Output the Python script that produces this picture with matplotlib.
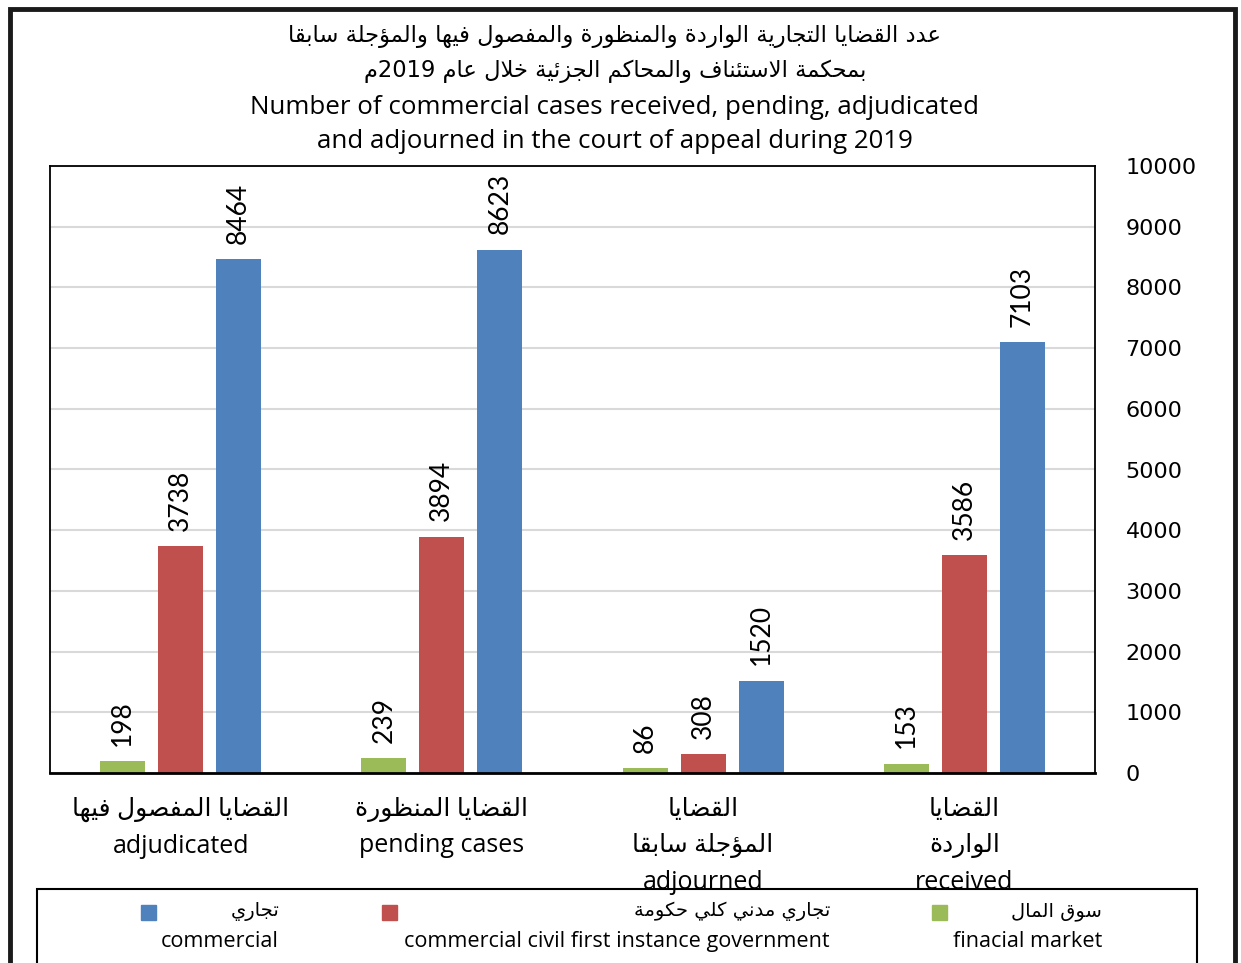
import re
import numpy as np
import matplotlib
matplotlib.use("Agg")
import matplotlib.pyplot as plt
from matplotlib.patches import Rectangle

# arabic letter forms: isolated, final, initial, medial
FORMS = {
    'ا': ('\uFE8D', '\uFE8E', None, None),
    'ب': ('\uFE8F', '\uFE90', '\uFE91', '\uFE92'),
    'ة': ('\uFE93', '\uFE94', None, None),
    'ت': ('\uFE95', '\uFE96', '\uFE97', '\uFE98'),
    'ج': ('\uFE9D', '\uFE9E', '\uFE9F', '\uFEA0'),
    'ح': ('\uFEA1', '\uFEA2', '\uFEA3', '\uFEA4'),
    'خ': ('\uFEA5', '\uFEA6', '\uFEA7', '\uFEA8'),
    'د': ('\uFEA9', '\uFEAA', None, None),
    'ر': ('\uFEAD', '\uFEAE', None, None),
    'ز': ('\uFEAF', '\uFEB0', None, None),
    'س': ('\uFEB1', '\uFEB2', '\uFEB3', '\uFEB4'),
    'ص': ('\uFEB9', '\uFEBA', '\uFEBB', '\uFEBC'),
    'ض': ('\uFEBD', '\uFEBE', '\uFEBF', '\uFEC0'),
    'ظ': ('\uFEC5', '\uFEC6', '\uFEC7', '\uFEC8'),
    'ع': ('\uFEC9', '\uFECA', '\uFECB', '\uFECC'),
    'ف': ('\uFED1', '\uFED2', '\uFED3', '\uFED4'),
    'ق': ('\uFED5', '\uFED6', '\uFED7', '\uFED8'),
    'ك': ('\uFED9', '\uFEDA', '\uFEDB', '\uFEDC'),
    'ل': ('\uFEDD', '\uFEDE', '\uFEDF', '\uFEE0'),
    'م': ('\uFEE1', '\uFEE2', '\uFEE3', '\uFEE4'),
    'ن': ('\uFEE5', '\uFEE6', '\uFEE7', '\uFEE8'),
    'ه': ('\uFEE9', '\uFEEA', '\uFEEB', '\uFEEC'),
    'و': ('\uFEED', '\uFEEE', None, None),
    'ي': ('\uFEF1', '\uFEF2', '\uFEF3', '\uFEF4'),
    'ؤ': ('\uFE85', '\uFE86', None, None),
    'ئ': ('\uFE89', '\uFE8A', '\uFE8B', '\uFE8C'),
    '\uFEFB': ('\uFEFB', '\uFEFC', None, None),
}


def ar(s):
    s = s.replace('لا', '\uFEFB')
    out = []
    for i, c in enumerate(s):
        if c not in FORMS:
            out.append(c)
            continue
        prev = s[i - 1] if i > 0 else ''
        nxt = s[i + 1] if i + 1 < len(s) else ''
        jp = prev in FORMS and FORMS[prev][2] is not None
        jn = nxt in FORMS and FORMS[c][2] is not None
        iso, fin, ini, med = FORMS[c]
        if jp and jn:
            out.append(med)
        elif jp:
            out.append(fin)
        elif jn:
            out.append(ini)
        else:
            out.append(iso)
    vis = ''.join(out)[::-1]
    return re.sub(r'[0-9]+', lambda m: m.group(0)[::-1], vis)


# data
categories_ar = ["القضايا المفصول فيها", "القضايا المنظورة", "القضايا\nالمؤجلة سابقا", "القضايا\nالواردة"]
categories_en = ["adjudicated", "pending cases", "adjourned", "received"]
series_ar = ["سوق المال", "تجاري مدني كلي حكومة", "تجاري"]
series_en = ["finacial market", "commercial civil first instance government", "commercial"]
financial_market = [198, 239, 86, 153]
civil_government = [3738, 3894, 308, 3586]
commercial = [8464, 8623, 1520, 7103]
colors = ["#9BBB59", "#C0504D", "#4F81BD"]

title_ar = ["عدد القضايا التجارية الواردة والمنظورة والمفصول فيها والمؤجلة سابقا",
            "بمحكمة الاستئناف والمحاكم الجزئية خلال عام 2019م"]
title_en = ["Number of commercial cases received, pending, adjudicated",
            "and adjourned in the court of appeal during 2019"]

plt.rcParams['font.family'] = ['Open Sans', 'DejaVu Sans']

W, H = 1241, 963
fig = plt.figure(figsize=(W / 100, H / 100), dpi=100)


def fx(px):
    return px / W


def fy(py):
    return 1 - py / H


ax = fig.add_axes([fx(50), fy(773), fx(1045), 607 / H])

x = np.arange(len(categories_en))
step, width = 0.222, 0.172
all_series = [financial_market, civil_government, commercial]
for k, (vals, col) in enumerate(zip(all_series, colors)):
    xs = x + (k - 1) * step
    ax.bar(xs, vals, width=width, color=col, zorder=2)
    for xi, v in zip(xs, vals):
        ax.annotate(str(v), (xi, v), xytext=(0, 11), textcoords='offset points',
                    rotation=90, ha='center', va='bottom', fontsize=19,
                    family=['Lato', 'DejaVu Sans'])

ax.set_xlim(-0.5, 3.5)
ax.set_ylim(0, 10000)
ax.yaxis.tick_right()
ax.set_yticks(range(0, 10001, 1000))
ax.tick_params(axis='y', length=0, pad=22, labelsize=16, labelfontfamily='DejaVu Sans')
ax.yaxis.grid(True, color='#d9d9d9', linewidth=1.5)
ax.set_axisbelow(True)

labels = ['\n'.join(ar(p) for p in a.split('\n')) for a in categories_ar]
labels = [a + '\n' + e for a, e in zip(labels, categories_en)]
ax.set_xticks(x)
ax.set_xticklabels(labels, fontsize=18, linespacing=1.62)
ax.tick_params(axis='x', length=0, pad=17)

for side in ['left', 'top', 'right']:
    ax.spines[side].set_linewidth(1.3)
    ax.spines[side].set_color('black')
ax.spines['bottom'].set_linewidth(2)

# titles
for txt, py in zip(title_ar, [37, 71]):
    fig.text(fx(615), fy(py), ar(txt), ha='center', va='center', fontsize=16.3,
             family='DejaVu Sans')
for txt, py in zip(title_en, [107, 142]):
    fig.text(fx(615), fy(py), txt, ha='center', va='center', fontsize=18.6)

# legend
fig.patches.append(Rectangle((fx(37), fy(990)), fx(1160), (990 - 889) / H,
                             transform=fig.transFigure, fill=False,
                             edgecolor='black', linewidth=1.5))
sq_x = [939, 389, 148]
txt_r = [1102, 830, 279]
for k in range(3):
    fig.patches.append(Rectangle((fx(sq_x[k] - 7.5), fy(912 + 7.5)), fx(15), 15 / H,
                                 transform=fig.transFigure, color=colors[k]))
    fig.text(fx(txt_r[k]), fy(911), ar(series_ar[k]), ha='right', va='center',
             fontsize=14, family='DejaVu Sans')
    fig.text(fx(txt_r[k]), fy(941), series_en[k], ha='right', va='center', fontsize=15.6)

# outer frame
fig.patches.append(Rectangle((fx(10), fy(1000)), fx(1225), (1000 - 9) / H,
                             transform=fig.transFigure, fill=False,
                             edgecolor='#1a1a1a', linewidth=3.5))

fig.savefig("out.png", dpi=100)
